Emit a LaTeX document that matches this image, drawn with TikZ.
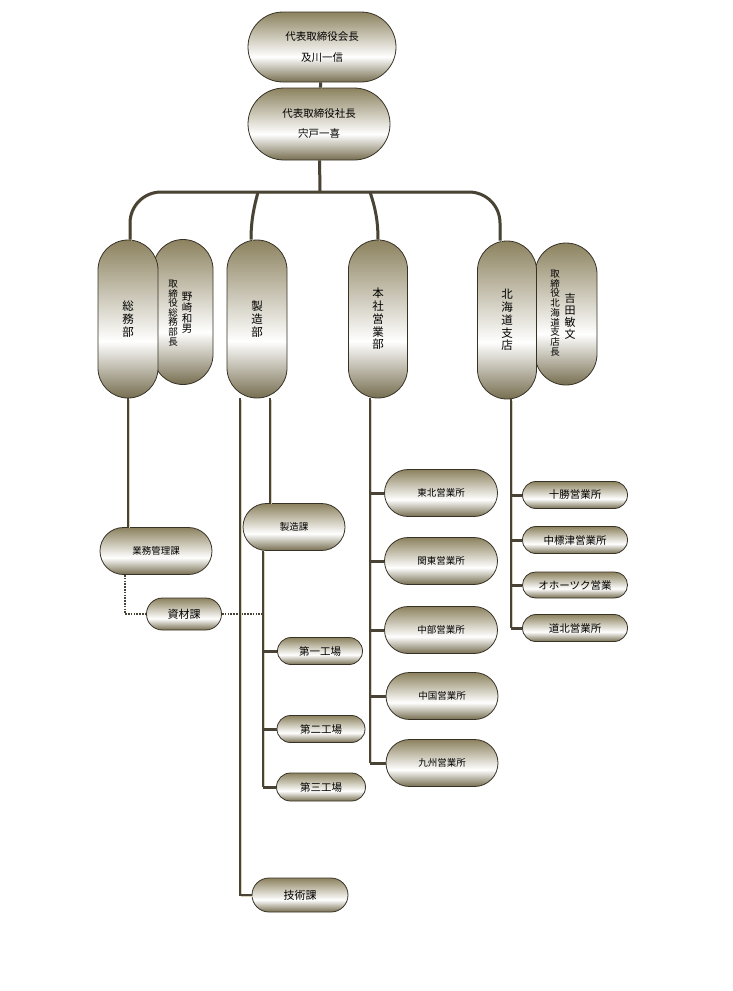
\documentclass[tikz,border=0pt]{standalone}
\usepackage{fontspec}
\setmainfont{Noto Sans CJK JP}
\usepackage{xcolor}
\usepackage{tikz}
\usetikzlibrary{calc}

\definecolor{hopdam}{RGB}{140,130,95}
\definecolor{vien}{RGB}{55,50,38}
\definecolor{day}{RGB}{72,67,52}
\definecolor{bong}{RGB}{218,211,188}
\pgfdeclareverticalshading{kapsel}{100bp}{color(0bp)=(hopdam!85!black); color(25bp)=(hopdam!85!black); color(43bp)=(white); color(75bp)=(hopdam); color(100bp)=(hopdam)}

\begin{document}
\begin{tikzpicture}[x=1pt, y=-1pt,
    hop/.style={draw=vien, line width=0.8pt, shading=kapsel, inner sep=0pt},
    ngang/.style 2 args={hop, minimum width=#1, minimum height=#2, rounded corners=#2/2},
    doc/.style 2 args={hop, minimum width=#1, minimum height=#2, rounded corners=#1/2, align=center, font=\fontsize{11.5}{12.8}\selectfont},
    cot/.style={inner sep=0pt, align=center},
    noi/.style={draw=day, line width=3pt, preaction={draw=bong, transform canvas={shift={(1.3,1.3)}}}},
    noi2/.style={draw=day, line width=2pt, preaction={draw=bong, transform canvas={shift={(1.5,1.2)}}}},
    nhanh/.style={draw=day, line width=3pt},
    cham/.style={draw=day, line width=2pt, dash pattern=on 1.6pt off 1.2pt}]
    \useasboundingbox (0,0) rectangle (733,991);

    % Hội trưởng và giám đốc
    \node[ngang={148}{70}, align=center, font=\fontsize{10.5}{21}\selectfont] (kaicho) at (322,47) {代表取締役会長\\及川一信};
    \node[ngang={142}{72}, align=center, font=\fontsize{10.5}{20}\selectfont] (shacho) at (319,124) {代表取締役社長\\宍戸一喜};

    % Các bộ phận (khung đứng)
    \node[doc={60}{145}] (nozaki) at (183,312) {};
    \node[cot, font=\fontsize{9.5}{9.6}\selectfont] (nozaki-chucvu) at (173,313) {取\\締\\役\\総\\務\\部\\長};
    \node[cot, font=\fontsize{10.5}{10.8}\selectfont] (nozaki-ten) at (187,313) {野\\崎\\和\\男};
    \node[doc={60}{158}] (somu) at (128,319) {総\\務\\部};
    \node[doc={60}{158}] (seizo) at (257,319) {製\\造\\部};
    \node[doc={59}{158}] (honsha) at (378,319) {本\\社\\営\\業\\部};
    \node[doc={62}{142}] (yoshida) at (566,314) {};
    \node[cot, font=\fontsize{9.5}{9.7}\selectfont] (yoshida-chucvu) at (555,313) {取\\締\\役\\北\\海\\道\\支\\店\\長};
    \node[cot, font=\fontsize{11}{12}\selectfont] (yoshida-ten) at (570,316) {吉\\田\\敏\\文};
    \node[doc={59}{158}] (hokkaido) at (507,320) {北\\海\\道\\支\\店};

    % Khối 総務部 / 製造部
    \node[ngang={112}{47}, font=\fontsize{9.5}{11}\selectfont] (gyomu) at (156,551) {業務管理課};
    \node[ngang={75}{32}, font=\fontsize{11}{12}\selectfont] (shizai) at (184,614) {資材課};
    \node[ngang={102}{47}, font=\fontsize{9.5}{11}\selectfont] (seizoka) at (294,527) {製造課};
    \node[ngang={85}{27}, font=\fontsize{10.5}{12}\selectfont] (kojo1) at (320,651) {第一工場};
    \node[ngang={88}{27}, font=\fontsize{10.5}{12}\selectfont] (kojo2) at (321,729) {第二工場};
    \node[ngang={89}{28}, font=\fontsize{10.5}{12}\selectfont] (kojo3) at (321,787) {第三工場};
    \node[ngang={96}{34}, font=\fontsize{11}{12}\selectfont] (gijutsu) at (300,895) {技術課};

    % Các văn phòng kinh doanh
    \node[ngang={113}{47}, font=\fontsize{9.5}{11}\selectfont] (tohoku) at (441,493) {東北営業所};
    \node[ngang={113}{47}, font=\fontsize{9.5}{11}\selectfont] (kanto) at (441,561) {関東営業所};
    \node[ngang={113}{47}, font=\fontsize{9.5}{11}\selectfont] (chubu) at (441,630) {中部営業所};
    \node[ngang={112}{47}, font=\fontsize{9.5}{11}\selectfont] (chugoku) at (442,696) {中国営業所};
    \node[ngang={112}{47}, font=\fontsize{9.5}{11}\selectfont] (kyushu) at (442,763) {九州営業所};
    \node[ngang={105}{27}, font=\fontsize{10.5}{12}\selectfont] (tokachi) at (575,495) {十勝営業所};
    \node[ngang={105}{27}, font=\fontsize{10.5}{12}\selectfont] (nakashibetsu) at (575,540) {中標津営業所};
    \node[ngang={105}{26}, font=\fontsize{10.5}{12}\selectfont] (okhotsk) at (575,585) {オホーツク営業};
    \node[ngang={105}{27}, font=\fontsize{10.5}{12}\selectfont] (dohoku) at (575,628) {道北営業所};

    % Thanh ngang nối các bộ phận
    \coordinate (thanh) at (320,192);
    \coordinate (re2) at (258,192);
    \coordinate (re3) at (370,192);
    \draw[noi] (kaicho) -- (shacho);
    \draw[noi] (shacho) -- (thanh);
    \draw[noi, rounded corners=31] ([xshift=2]somu.north) |- (thanh) -| ([xshift=-7]hokkaido.north);
    \draw[noi] (re2) .. controls (254,207) and (251,220) .. ([xshift=-6]seizo.north);
    \draw[noi] (re3) .. controls (375,207) and (378,220) .. (honsha.north);

    % Đường dọc phía dưới
    \coordinate (s1) at ([xshift=-17]seizo.south);
    \coordinate (s2) at ([xshift=13]seizo.south);
    \coordinate (truc) at ([xshift=-31]seizoka.south);
    \coordinate (h0) at ([xshift=-8]honsha.south);
    \coordinate (k0) at ([xshift=4]hokkaido.south);
    \draw[noi2] (somu.south) -- (somu.south |- gyomu.north);
    \draw[cham] ([xshift=-31]gyomu.south) |- (shizai.west);
    \draw[cham] (shizai.east) -- (shizai.east -| truc);
    \draw[noi2] (s2) -- (s2 |- seizoka.north);
    \draw[noi2] (s1) |- (gijutsu.west);
    \draw[noi2] (truc) -- (truc |- kojo3.west);
    \draw[noi2] (h0) -- (h0 |- kyushu.west);
    \draw[noi2] (k0) -- (k0 |- dohoku.west);

    % Nhánh ngắn
    \foreach \o in {kojo1, kojo2, kojo3}
        \draw[nhanh] (truc |- \o.west) -- (\o.west);
    \foreach \o in {tohoku, kanto, chubu, chugoku, kyushu}
        \draw[nhanh] (h0 |- \o.west) -- (\o.west);
    \foreach \o in {tokachi, nakashibetsu, okhotsk, dohoku}
        \draw[nhanh] (k0 |- \o.west) -- (\o.west);
\end{tikzpicture}
\end{document}
